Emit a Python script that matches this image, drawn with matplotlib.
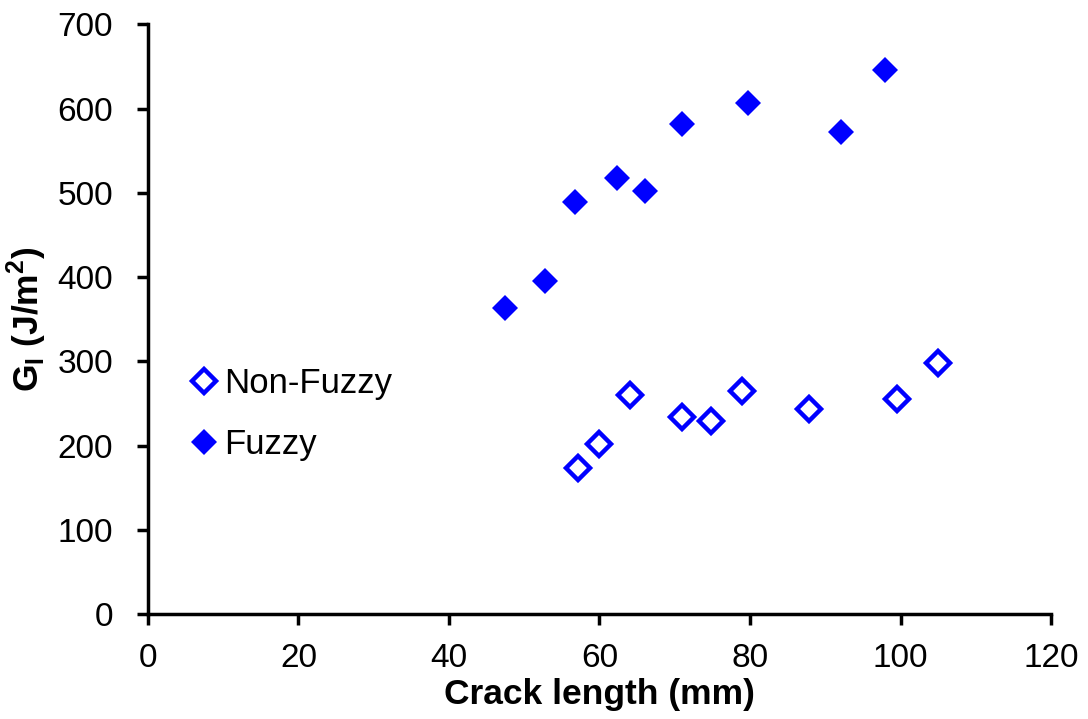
import matplotlib.pyplot as plt

plt.rcParams['font.family'] = ['Liberation Sans', 'DejaVu Sans']

# crack length (mm) and G_I (J/m^2)
nonfuzzy_x = [57.2, 59.9, 64.1, 70.9, 74.8, 78.9, 87.8, 99.6, 105.0]
nonfuzzy_y = [173, 202, 260, 234, 229, 265, 243, 255, 298]

fuzzy_x = [47.5, 52.8, 56.8, 62.3, 66.1, 70.9, 79.8, 92.1, 97.9]
fuzzy_y = [363, 395, 489, 518, 502, 582, 607, 572, 646]

xticks = [0, 20, 40, 60, 80, 100, 120]
yticks = [0, 100, 200, 300, 400, 500, 600, 700]

fig = plt.figure(figsize=(10.88, 7.19), dpi=100)
ax = fig.add_axes([0.136, 0.146, 0.830, 0.820])

ax.plot(nonfuzzy_x, nonfuzzy_y, linestyle='none', marker='D', markersize=12,
        markerfacecolor='white', markeredgecolor='#0000ff', markeredgewidth=3.2,
        label='Non-Fuzzy')
ax.plot(fuzzy_x, fuzzy_y, linestyle='none', marker='D', markersize=13.5,
        color='#0000ff', markeredgewidth=0, label='Fuzzy')

ax.set_xlim(0, 120)
ax.set_ylim(0, 700)
ax.set_xticks(xticks)
ax.set_yticks(yticks)
ax.tick_params(labelsize=24, width=2.5, length=8, direction='out')
ax.tick_params(axis='y', pad=17)
ax.tick_params(axis='x', pad=13)

for side in ['top', 'right']:
    ax.spines[side].set_visible(False)
for side in ['left', 'bottom']:
    ax.spines[side].set_linewidth(2.5)

ax.set_xlabel('Crack length (mm)', fontsize=25.5, fontweight='bold', labelpad=3)
ax.set_ylabel(r'G$_\mathregular{I}$ (J/m$^\mathregular{2}$)', fontsize=25.5,
              fontweight='bold', labelpad=6)

ax.legend(loc='center left', bbox_to_anchor=(0.05, 0.339), frameon=False,
          fontsize=25, handlelength=0.6, handletextpad=0.3, labelspacing=0.8,
          borderaxespad=0, borderpad=0)

fig.savefig('out.png', dpi=100)
